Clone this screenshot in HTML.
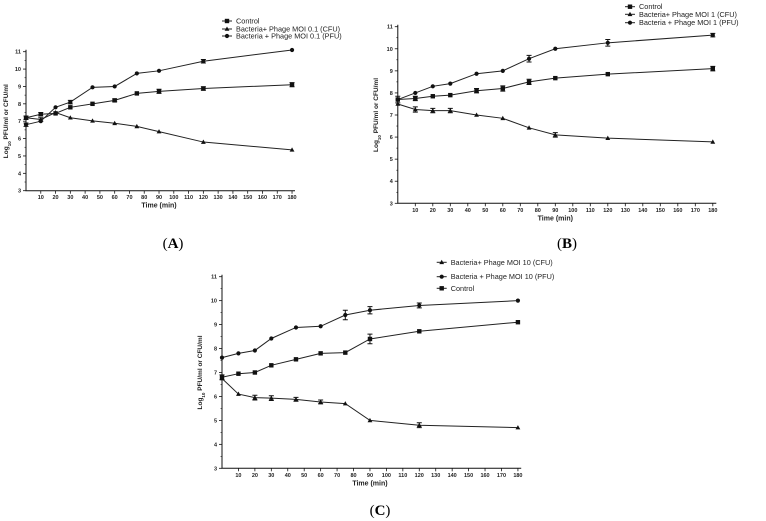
<!DOCTYPE html>
<html><head><meta charset="utf-8"><style>
body{margin:0;background:#fff;}
svg{display:block;font-family:"Liberation Sans",sans-serif;}
.t{font-size:5.5px;font-weight:bold;fill:#222;}
.lg{font-size:7.3px;fill:#222;}
.cap{font-family:"Liberation Serif",serif;font-size:15px;fill:#000;}
</style></head><body>
<svg id="fig" width="766" height="521" viewBox="0 0 766 521"></svg>
<script>
const times=[0,10,20,30,45,60,75,90,120,180];
const xTicks=[10,20,30,40,50,60,70,80,90,100,110,120,130,140,150,160,170,180];
const yTicks=[3,4,5,6,7,8,9,10,11];
const aControl=[7.2,7.4,7.45,7.8,8.0,8.2,8.6,8.72,8.88,9.1];
const aControlErr=[0.1,0.1,0,0,0,0.08,0,0.12,0.1,0.12];
const aCFU=[7.2,7.1,7.5,7.2,7.02,6.88,6.7,6.4,5.8,5.35];
const aCFUErr=[0,0.1,0,0,0,0,0,0,0,0];
const aPFU=[6.8,7.0,7.8,8.1,8.95,9.0,9.75,9.9,10.45,11.1];
const aPFUErr=[0.1,0,0,0.1,0,0,0,0,0.1,0];
const bControl=[7.7,7.75,7.85,7.9,8.1,8.2,8.5,8.67,8.85,9.1];
const bControlErr=[0.15,0.1,0,0,0.1,0.12,0.12,0,0,0.1];
const bCFU=[7.5,7.25,7.2,7.2,7.0,6.85,6.42,6.1,5.95,5.78];
const bCFUErr=[0,0.12,0.1,0.1,0,0,0,0.1,0,0];
const bPFU=[7.7,8.0,8.3,8.42,8.87,9.0,9.55,10.0,10.27,10.62];
const bPFUErr=[0,0,0,0,0,0,0.15,0,0.15,0.08];
const cControl=[6.8,6.95,7.0,7.3,7.55,7.8,7.83,8.4,8.72,9.1];
const cControlErr=[0.1,0,0,0,0,0,0,0.2,0,0];
const cCFU=[6.75,6.1,5.95,5.93,5.88,5.77,5.7,5.0,4.8,4.7];
const cCFUErr=[0,0,0.1,0.1,0.08,0.08,0,0,0.1,0];
const cPFU=[7.62,7.8,7.92,8.42,8.88,8.93,9.4,9.6,9.8,10.0];
const cPFUErr=[0,0,0,0,0,0,0.2,0.15,0.1,0];
const NS='http://www.w3.org/2000/svg';
const svg=document.getElementById('fig');
function mk(tag,attrs,parent){const e=document.createElementNS(NS,tag);for(const k in attrs)e.setAttribute(k,attrs[k]);(parent||svg).appendChild(e);return e;}
function marker(g,shape,x,y){
  let m;
  if(shape==='sq')m=mk('rect',{x:x-2.2,y:y-2.2,width:4.4,height:4.4,fill:'#111'},g);
  else if(shape==='tri')m=mk('polygon',{points:`${x},${y-2.5} ${x-2.4},${y+1.8} ${x+2.4},${y+1.8}`,fill:'#111'},g);
  else m=mk('circle',{cx:x,cy:y,r:2.1,fill:'#111'},g);
  return m;
}
function panel(p){
  const g=mk('g',{});
  
  
  const X=t=>p.x0+t*p.dx/10, Y=v=>p.y3-(v-3)*(p.y3-p.y11)/8;
  const ax=mk('path',{d:`M${p.x0},${p.y11-2}V${p.y3}H${X(182)}`,stroke:'#111','stroke-width':1,fill:'none'},g);
  
  
  yTicks.forEach(v=>{mk('line',{x1:p.x0-3,x2:p.x0,y1:Y(v),y2:Y(v),stroke:'#111','stroke-width':0.8},g);
    if(v<11)mk('line',{x1:p.x0-1.5,x2:p.x0,y1:Y(v+0.5),y2:Y(v+0.5),stroke:'#111','stroke-width':0.6},g);
    const t=mk('text',{x:p.x0-5,y:Y(v)+2,'text-anchor':'end',class:'t'},g);t.textContent=v;
    
    });
  xTicks.forEach(v=>{mk('line',{x1:X(v),x2:X(v),y1:p.y3,y2:p.y3+3,stroke:'#111','stroke-width':0.8},g);
    const t=mk('text',{x:X(v),y:p.y3+8.5,'text-anchor':'middle',class:'t'},g);t.textContent=v;
    
    });
  const xt=mk('text',{x:X(90),y:p.y3+17,'text-anchor':'middle',class:'t',style:'font-size:7px'},g);xt.textContent='Time (min)';
  
  
  const yc=(p.y3+p.y11)/2;
  const yt=mk('text',{x:p.ytx,y:yc,'text-anchor':'middle',class:'t',style:'font-size:6.5px',transform:`rotate(-90 ${p.ytx} ${yc})`},g);
  yt.innerHTML='Log<tspan baseline-shift="sub" font-size="4.5">10</tspan> PFU/ml or CFU/ml';
  
  
  p.series.forEach((s,i)=>{
    const sg=mk('g',{},g);
    
    
    mk('polyline',{points:times.map((t,j)=>X(t)+','+Y(s.data[j])).join(' '),fill:'none',stroke:'#222','stroke-width':1},sg);
    times.forEach((t,j)=>{
      const e=s.err[j];
      if(e>0){const x=X(t),y1=Y(s.data[j]+e),y2=Y(s.data[j]-e);
        const eb=mk('path',{d:`M${x},${y1}V${y2}M${x-2.5},${y1}H${x+2.5}M${x-2.5},${y2}H${x+2.5}`,stroke:'#111','stroke-width':1,fill:'none'},sg);
        
        }
      const m=marker(sg,s.shape,X(t),Y(s.data[j]));
      
      });
    const ly=p.legY[i];
    const lg=mk('g',{},g);
    
    
    mk('line',{x1:p.legX-5,x2:p.legX+5,y1:ly,y2:ly,stroke:'#222','stroke-width':1},lg);
    marker(lg,s.shape,p.legX,ly);
    const lt=mk('text',{x:p.legX+9,y:ly+2.5,class:'lg'},lg);lt.textContent=s.label;
  });
  const c=mk('text',{x:p.capX,y:p.capY,'text-anchor':'middle',class:'cap'},g);
  c.innerHTML='(<tspan font-weight="bold">'+p.letter+'</tspan>)';
  
  
}
panel({name:'panel-a',letter:'A',x0:26,dx:14.78,y11:51.7,y3:190.7,ytx:8,legX:227,legY:[21,29,36],capX:173,capY:248,
  series:[{label:'Control',shape:'sq',data:aControl,err:aControlErr},{label:'Bacteria+ Phage MOI 0.1 (CFU)',shape:'tri',data:aCFU,err:aCFUErr},{label:'Bacteria + Phage MOI 0.1 (PFU)',shape:'ci',data:aPFU,err:aPFUErr}]});
panel({name:'panel-b',letter:'B',x0:397.8,dx:17.5,y11:26.7,y3:203.3,ytx:378,legX:630,legY:[6.7,14.3,22.7],capX:567,capY:248,
  series:[{label:'Control',shape:'sq',data:bControl,err:bControlErr},{label:'Bacteria+ Phage MOI 1 (CFU)',shape:'tri',data:bCFU,err:bCFUErr},{label:'Bacteria + Phage MOI 1 (PFU)',shape:'ci',data:bPFU,err:bPFUErr}]});
panel({name:'panel-c',letter:'C',x0:222,dx:16.44,y11:276.7,y3:468.3,ytx:202,legX:441.7,legY:[262.3,276.7,288.3],capX:380,capY:515,
  series:[{label:'Bacteria+ Phage MOI 10 (CFU)',shape:'tri',data:cCFU,err:cCFUErr},{label:'Bacteria + Phage MOI 10 (PFU)',shape:'ci',data:cPFU,err:cPFUErr},{label:'Control',shape:'sq',data:cControl,err:cControlErr}]});
</script>
</body></html>
